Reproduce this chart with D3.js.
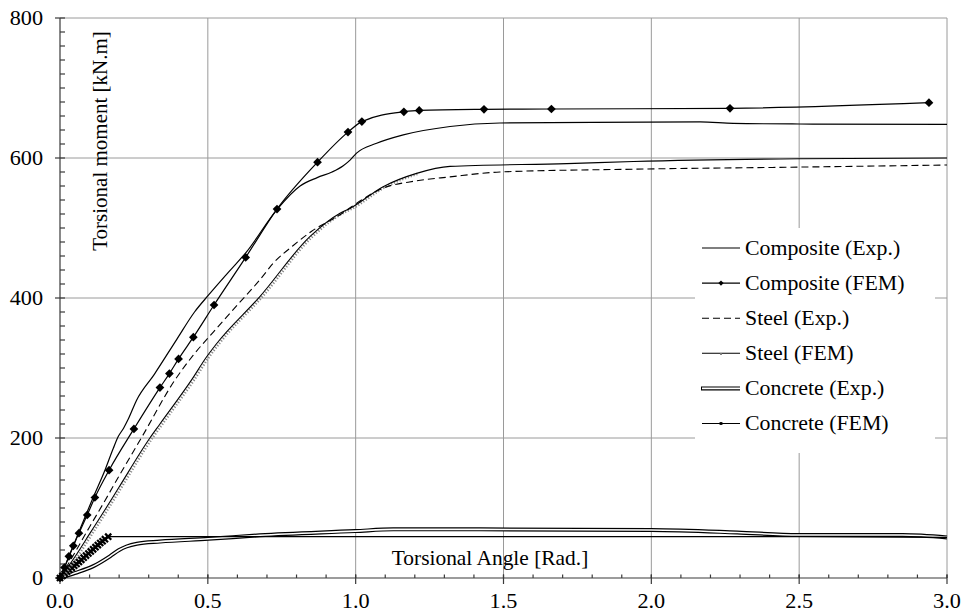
<!DOCTYPE html>
<html>
<head>
<meta charset="utf-8">
<script src="https://cdn.jsdelivr.net/npm/d3@7"></script>
<style>
  html, body { margin: 0; padding: 0; background: #fff; }
</style>
</head>
<body>
<svg id="chart" width="963" height="613"></svg>
<script>
// Torsional moment vs. torsional angle: [angle (rad), moment (kN.m)]
const compositeExp = [[0,0],[0.03,30],[0.07,72],[0.11,113],[0.152,154],[0.18,185],[0.197,202],[0.215,214],[0.231,227],[0.259,254],[0.319,291],[0.395,341],[0.455,380],[0.502,404],[0.57,437],[0.631,466],[0.733,526],[0.812,560],[0.87,572],[0.92,580],[0.958,589],[0.981,597],[1.003,607],[1.071,621],[1.161,633],[1.319,645],[1.488,650],[1.8,651],[2.165,651.5],[2.277,649.5],[2.5,648.6],[3.0,648]];
const compositeFem = [[0,0],[0.015,15],[0.03,31],[0.045,46],[0.064,64],[0.092,90],[0.118,115],[0.166,154],[0.25,213],[0.338,272],[0.37,292],[0.401,313],[0.451,344],[0.521,390],[0.628,458],[0.734,527],[0.871,594],[0.974,637],[1.021,652],[1.163,666],[1.215,668],[1.434,669.5],[1.662,670],[2.266,671],[2.939,679]];
const steelExp = [[0,0],[0.05,36],[0.1,73],[0.15,109],[0.2,146],[0.275,200],[0.389,283],[0.45,318],[0.52,352],[0.6,390],[0.676,426],[0.722,450],[0.789,475],[0.85,495],[0.947,519],[0.981,529],[1.093,557],[1.2,567],[1.319,573],[1.488,580],[1.939,584],[2.5,587],[3.0,590]];
const steelFem = [[0,0],[0.05,30],[0.1,63],[0.15,96],[0.2,130],[0.304,200],[0.338,220],[0.445,283],[0.496,316],[0.53,335],[0.676,402],[0.846,488],[0.947,521],[0.981,528],[1.093,559],[1.206,578],[1.319,588],[1.714,592],[1.94,595],[2.503,599],[3.0,600]];
const concreteExp = [[0,0],[0.05,7],[0.113,17],[0.169,31],[0.2,40],[0.225,45],[0.26,49],[0.338,52],[0.502,56],[0.676,61],[0.998,67],[1.127,69.5],[1.42,69.5],[2.0,68.6],[2.29,65],[2.497,61.5],[2.85,61.4],[3.0,58]];
const concreteFem = [[0,0],[0.008,3],[0.016,6],[0.024,9],[0.032,11.5],[0.04,14.5],[0.048,17.5],[0.056,20],[0.064,23],[0.072,26],[0.08,29],[0.088,32],[0.096,35],[0.104,38],[0.112,41],[0.12,44],[0.128,47],[0.136,50],[0.144,52.5],[0.152,55.5],[0.163,59],[0.5,59],[1.0,59],[1.5,59],[2.0,59],[2.5,59],[3.0,58]];

const xMajorTicks = [0, 0.5, 1.0, 1.5, 2.0, 2.5, 3.0];
const yMajorTicks = [0, 200, 400, 600, 800];
const legendLabels = ["Composite (Exp.)", "Composite (FEM)", "Steel (Exp.)", "Steel (FEM)", "Concrete (Exp.)", "Concrete (FEM)"];
const xTitle = "Torsional Angle [Rad.]";
const yTitle = "Torsional moment [kN.m]";

const FONT = "'Liberation Serif', Tinos, 'Times New Roman', serif";
const fontSize = 21;

const svg = d3.select("#chart");
const x = d3.scaleLinear().domain([0, 3]).range([60, 947]);
const y = d3.scaleLinear().domain([0, 800]).range([578, 18]);

// gridlines
const grid = svg.append("g").attr("stroke", "#9a9a9a").attr("stroke-width", 1);
grid.selectAll(".gx").data(xMajorTicks.filter(d => d > 0)).join("line")
  .attr("x1", d => x(d)).attr("x2", d => x(d)).attr("y1", y(0)).attr("y2", y(800));
grid.selectAll(".gy").data(yMajorTicks.filter(d => d > 0)).join("line")
  .attr("x1", x(0)).attr("x2", x(3)).attr("y1", d => y(d)).attr("y2", d => y(d));

// axes
const ax = svg.append("g").attr("stroke", "#3a3a3a").attr("stroke-width", 1.2);
ax.append("line").attr("x1", x(0)).attr("x2", x(0)).attr("y1", y(0)).attr("y2", y(800));
ax.append("line").attr("x1", x(0)).attr("x2", x(3)).attr("y1", y(0)).attr("y2", y(0));
ax.selectAll(".ymin").data(d3.range(0, 801, 20)).join("line")
  .attr("x1", x(0)).attr("x2", x(0) + 5).attr("y1", d => y(d)).attr("y2", d => y(d));
ax.selectAll(".ymaj").data(yMajorTicks).join("line")
  .attr("x1", x(0) - 5).attr("x2", x(0)).attr("y1", d => y(d)).attr("y2", d => y(d));
ax.selectAll(".xmin").data(d3.range(0, 31).map(i => i / 10)).join("line")
  .attr("x1", d => x(d)).attr("x2", d => x(d)).attr("y1", y(0) - 3.5).attr("y2", y(0));
ax.selectAll(".xmaj").data(xMajorTicks).join("line")
  .attr("x1", d => x(d)).attr("x2", d => x(d)).attr("y1", y(0) - 3.5).attr("y2", y(0) + 6);

// text helper
function label(sel) {
  return sel.attr("font-family", FONT).attr("font-size", fontSize).attr("fill", "#000");
}

// tick labels
label(svg.append("g").selectAll("text").data(yMajorTicks).join("text"))
  .attr("text-anchor", "end")
  .attr("transform", d => `translate(43,${y(d) + 6.7}) scale(1.06,1)`).text(d => d);
label(svg.append("g").selectAll("text").data(xMajorTicks).join("text"))
  .attr("text-anchor", "middle")
  .attr("transform", d => `translate(${x(d)},608) scale(1.06,1)`).text(d => d.toFixed(1));

// axis titles (inside plot area)
label(svg.append("text")).attr("transform", "translate(107,141) rotate(-90)")
  .attr("text-anchor", "middle").text(yTitle);
label(svg.append("text")).attr("transform", "translate(490,565) scale(1.02,1)")
  .attr("text-anchor", "middle").text(xTitle);

// curves
const line = d3.line().x(d => x(d[0])).y(d => y(d[1])).curve(d3.curveMonotoneX);
const plot = svg.append("g").attr("fill", "none");

// concrete (Exp.) - double line
plot.append("path").datum(concreteExp).attr("d", line).attr("stroke", "#000").attr("stroke-width", 4);
plot.append("path").datum(concreteExp).attr("d", line).attr("stroke", "#fff").attr("stroke-width", 1.6);

// concrete (FEM)
plot.append("path").datum(concreteFem).attr("d", line).attr("stroke", "#000").attr("stroke-width", 1.2);
const xMark = d3.symbol().type(d3.symbolX).size(26);
plot.append("g").selectAll("path").data(concreteFem.filter(d => d[0] <= 0.2)).join("path")
  .attr("transform", d => `translate(${x(d[0])},${y(d[1])})`).attr("d", xMark)
  .attr("stroke", "#000").attr("stroke-width", 2.2);

// steel (FEM) - solid line with dense grey markers
plot.append("path").datum(steelFem.filter(d => d[0] <= 1.25)).attr("d", line)
  .attr("transform", "translate(2.5,0)")
  .attr("stroke", "#8a8a8a").attr("stroke-width", 2.5).attr("stroke-dasharray", "1.2,1.8");
plot.append("path").datum(steelFem).attr("d", line).attr("stroke", "#000").attr("stroke-width", 1.1);

// steel (Exp.) - dashed
plot.append("path").datum(steelExp).attr("d", line).attr("stroke", "#000").attr("stroke-width", 1.1)
  .attr("stroke-dasharray", "7,4");

// composite (Exp.)
plot.append("path").datum(compositeExp).attr("d", line).attr("stroke", "#000").attr("stroke-width", 1.2);

// composite (FEM) with diamonds
plot.append("path").datum(compositeFem).attr("d", line).attr("stroke", "#000").attr("stroke-width", 1.2);
const diamond = d3.symbol().type(d3.symbolSquare).size(38);
plot.append("g").selectAll("path").data(compositeFem).join("path")
  .attr("transform", d => `translate(${x(d[0])},${y(d[1])}) rotate(45)`).attr("d", diamond)
  .attr("fill", "#000");

// legend
const lg = svg.append("g");
lg.append("rect").attr("x", 695).attr("y", 228).attr("width", 240).attr("height", 225).attr("fill", "#fff");
const rowY = i => 248 + i * 35.1;
const lx1 = 702, lx2 = 740;
label(lg.selectAll("text").data(legendLabels).join("text"))
  .attr("transform", (d, i) => `translate(745,${rowY(i) + 6.8}) scale(1.04,1)`).text(d => d);
lg.append("line").attr("x1", lx1).attr("x2", lx2).attr("y1", rowY(0)).attr("y2", rowY(0)).attr("stroke", "#000").attr("stroke-width", 1.1);
lg.append("line").attr("x1", lx1).attr("x2", lx2).attr("y1", rowY(1)).attr("y2", rowY(1)).attr("stroke", "#000").attr("stroke-width", 1.1);
lg.append("path").attr("transform", `translate(${(lx1 + lx2) / 2},${rowY(1)}) rotate(45)`)
  .attr("d", d3.symbol().type(d3.symbolSquare).size(14)).attr("fill", "#000");
lg.append("line").attr("x1", lx1).attr("x2", lx2).attr("y1", rowY(2)).attr("y2", rowY(2)).attr("stroke", "#000").attr("stroke-width", 1.1).attr("stroke-dasharray", "7,4");
lg.append("line").attr("x1", lx1).attr("x2", lx2).attr("y1", rowY(3)).attr("y2", rowY(3)).attr("stroke", "#000").attr("stroke-width", 1.1);
lg.append("rect").attr("x", (lx1 + lx2) / 2 - 1).attr("y", rowY(3) - 0.2).attr("width", 2).attr("height", 1.8).attr("fill", "#777");
lg.append("line").attr("x1", lx1 - 1).attr("x2", lx2).attr("y1", rowY(4)).attr("y2", rowY(4)).attr("stroke", "#000").attr("stroke-width", 4);
lg.append("line").attr("x1", lx1).attr("x2", lx2).attr("y1", rowY(4)).attr("y2", rowY(4)).attr("stroke", "#fff").attr("stroke-width", 1.6);
lg.append("line").attr("x1", lx1).attr("x2", lx2).attr("y1", rowY(5)).attr("y2", rowY(5)).attr("stroke", "#000").attr("stroke-width", 1.1);
lg.append("path").attr("transform", `translate(${(lx1 + lx2) / 2},${rowY(5)})`)
  .attr("d", d3.symbol().type(d3.symbolSquare).size(8)).attr("fill", "#000");
</script>
</body>
</html>
